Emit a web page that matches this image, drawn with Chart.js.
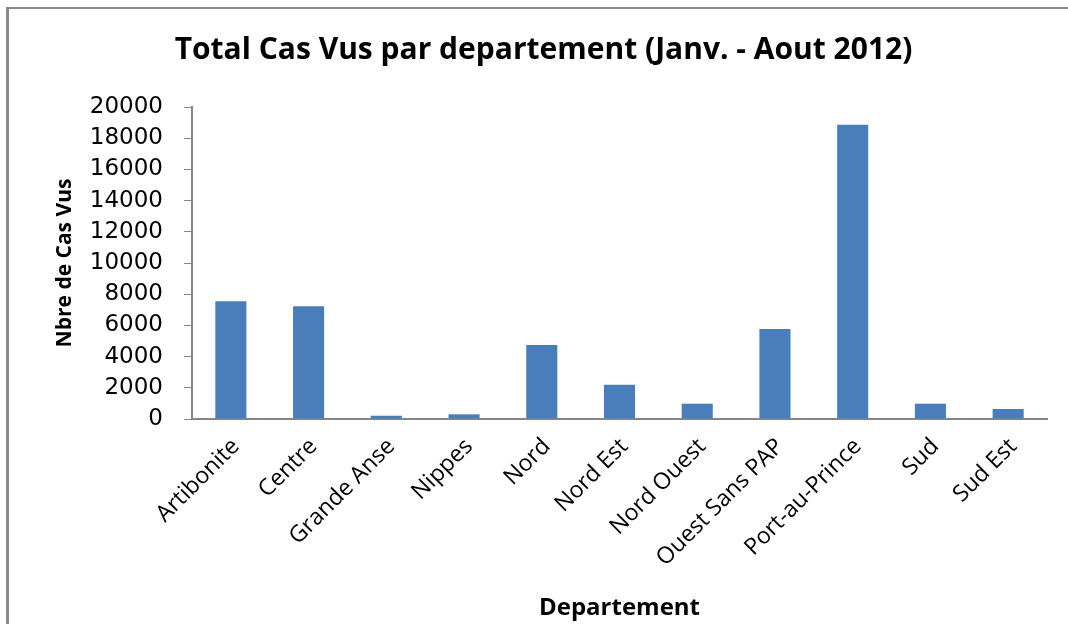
<!DOCTYPE html>
<html>
<head>
<meta charset="utf-8">
<script src="https://cdn.jsdelivr.net/npm/chart.js@4/dist/chart.umd.min.js"></script>
<style>
  html, body { margin: 0; padding: 0; background: #fff; }
  #wrap { position: relative; width: 1068px; height: 624px; overflow: hidden; }
  #frameTop { position: absolute; left: 6px; top: 7px; width: 1062px; height: 2px; background: #8a8a8a; }
  #frameLeft { position: absolute; left: 6px; top: 7px; width: 3px; height: 617px; background: #8a8a8a; }
  canvas { position: absolute; left: 0; top: 0; }
</style>
</head>
<body>
<div id="wrap">
  <div id="frameTop"></div>
  <div id="frameLeft"></div>
  <canvas id="c" width="1068" height="624"></canvas>
</div>
<script>
const categories = ["Artibonite", "Centre", "Grande Anse", "Nippes", "Nord", "Nord Est", "Nord Ouest", "Ouest Sans PAP", "Port-au-Prince", "Sud", "Sud Est"];
const casVus = [7550, 7220, 210, 300, 4740, 2200, 980, 5770, 18870, 980, 640];
const yTicks = [0, 2000, 4000, 6000, 8000, 10000, 12000, 14000, 16000, 18000, 20000];
const chartTitle = "Total Cas Vus par departement (Janv. - Aout 2012)";
const xTitle = "Departement";
const yTitle = "Nbre de Cas Vus";

const axisColor = "#868686";
const textColor = "#000";

new Chart(document.getElementById("c"), {
  type: "bar",
  data: {
    labels: categories,
    datasets: [{
      data: casVus,
      backgroundColor: "#4a7ebb",
      borderWidth: 0,
      barPercentage: 0.4,
      categoryPercentage: 1.0
    }]
  },
  options: {
    responsive: false,
    animation: false,
    devicePixelRatio: 1,
    layout: { padding: { left: 40, right: 21, top: 0, bottom: 0 } },
    plugins: {
      legend: { display: false },
      tooltip: { enabled: false },
      title: {
        display: true,
        text: chartTitle,
        color: textColor,
        font: { family: "'Open Sans'", size: 30, weight: "bold" },
        padding: { top: 32, bottom: 39 }
      }
    },
    scales: {
      x: {
        offset: true,
        grid: { display: false, drawTicks: false },
        border: { display: true, color: axisColor, width: 2 },
        ticks: {
          color: textColor,
          font: { family: "'Open Sans'", size: 23 },
          minRotation: 45,
          maxRotation: 45,
          padding: 14,
          labelOffset: 5,
          autoSkip: false
        },
        title: {
          display: true,
          text: xTitle,
          color: textColor,
          font: { family: "'Open Sans'", size: 24, weight: "bold" },
          padding: { top: 0, bottom: 1 }
        },
        afterFit: (s) => { s.height = 205; }
      },
      y: {
        min: 0,
        max: 20000,
        afterBuildTicks: (s) => { s.ticks = yTicks.map(v => ({ value: v })); },
        grid: { drawOnChartArea: false, drawTicks: true, tickLength: 8, color: axisColor, lineWidth: 1 },
        border: { display: true, color: axisColor, width: 2 },
        ticks: {
          color: textColor,
          font: { family: "'DejaVu Sans'", size: 23 },
          padding: 21,
          callback: (v) => String(v)
        },
        title: {
          display: true,
          text: yTitle,
          color: textColor,
          font: { family: "'Open Sans'", size: 21, weight: "bold" },
          padding: { top: 12, bottom: 0 }
        },
        afterFit: (s) => { s.width = 152; }
      }
    }
  }
});
</script>
</body>
</html>
